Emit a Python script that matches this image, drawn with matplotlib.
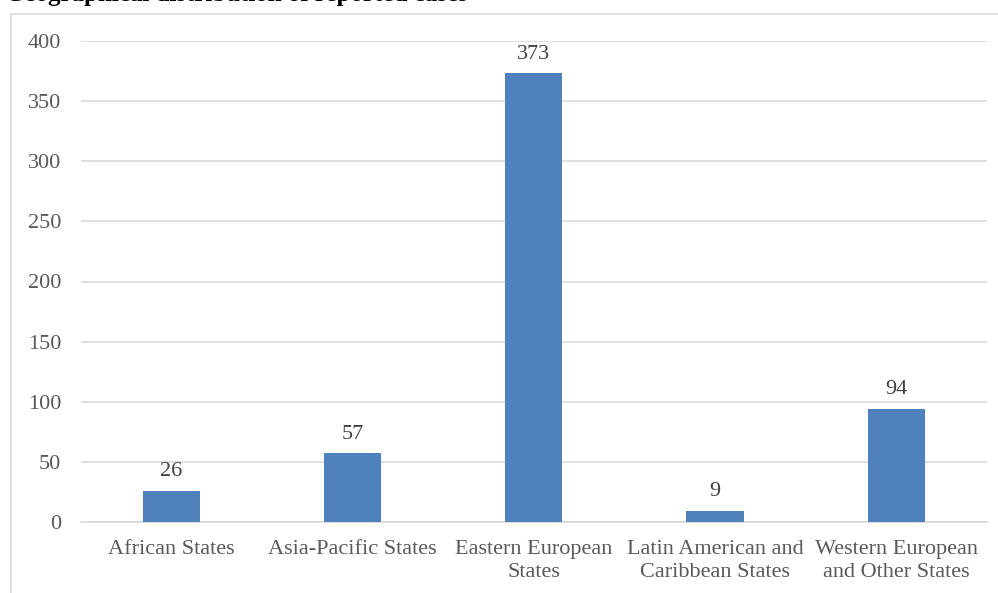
import matplotlib
matplotlib.use("Agg")
import matplotlib.pyplot as plt
from matplotlib.patches import Rectangle

categories = ["African States", "Asia-Pacific States", "Eastern European\nStates",
              "Latin American and\nCaribbean States", "Western European\nand Other States"]
values = [26, 57, 373, 9, 94]
yticks = [0, 50, 100, 150, 200, 250, 300, 350, 400]
title = "Geographical distribution of reported cases"

plt.rcParams['font.family'] = ['Liberation Serif', 'DejaVu Serif']

W, H = 998, 593
fig = plt.figure(figsize=(W / 100, H / 100), dpi=100)

# outer chart border (left and top visible)
fig.patches.append(Rectangle((11 / W, -0.1), 1.2, (H - 14) / H + 0.1, transform=fig.transFigure,
                             fill=False, edgecolor="#d9d9d9", linewidth=1.2))

ax = fig.add_axes([80.5 / W, 1 - 522 / H, (987 - 80.5) / W, (522 - 41) / H])
x = range(len(categories))
bars = ax.bar(x, values, width=0.315, color="#4f81bd", zorder=3)
for xi, v in zip(x, values):
    ax.annotate(str(v), (xi, v), xytext=(0, 7), textcoords="offset points",
                ha="center", va="bottom", fontsize=16, color="#404040")

ax.set_xlim(-0.5, len(categories) - 0.5)
ax.set_ylim(0, 400)
ax.set_yticks(yticks)
ax.set_yticklabels([str(t) for t in yticks], fontsize=16, color="#595959")
ax.set_xticks(list(x))
ax.set_xticklabels(categories, fontsize=16, color="#595959", linespacing=1.3)
ax.tick_params(axis="both", length=0)
ax.tick_params(axis="y", pad=14)
ax.tick_params(axis="x", pad=13)
ax.grid(axis="y", color="#d9d9d9", linewidth=1.2, zorder=0)
for s in ["top", "right", "left"]:
    ax.spines[s].set_visible(False)
ax.spines["bottom"].set_color("#d9d9d9")
ax.spines["bottom"].set_linewidth(1.2)

fig.text(5 / W, 1 - 1.5 / H, title, fontsize=18, fontweight="bold", ha="left", va="baseline")

fig.savefig("out.png", dpi=100)
